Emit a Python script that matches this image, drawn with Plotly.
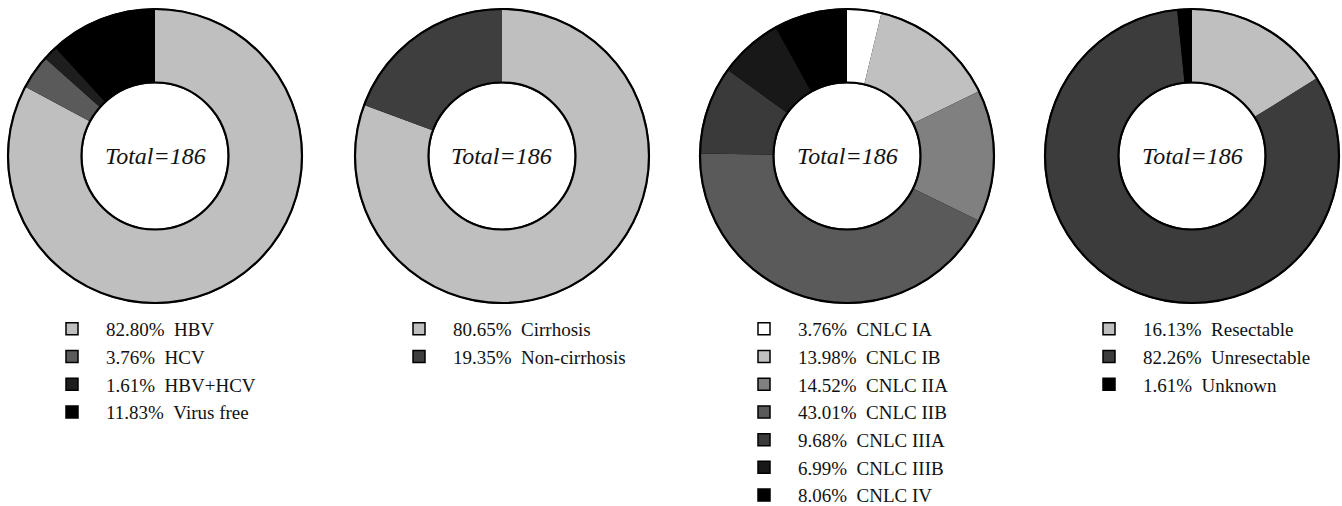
import plotly.graph_objects as go

W, H = 1342, 506

# ---- data ----
virus_labels = ["HBV", "HCV", "HBV+HCV", "Virus free"]
virus_values = [82.80, 3.76, 1.61, 11.83]
virus_colors = ["#bfbfbf", "#5a5a5a", "#1e1e1e", "#000000"]

cirr_labels = ["Cirrhosis", "Non-cirrhosis"]
cirr_values = [80.65, 19.35]
cirr_colors = ["#bfbfbf", "#3e3e3e"]

cnlc_labels = ["CNLC IA", "CNLC IB", "CNLC IIA", "CNLC IIB", "CNLC IIIA", "CNLC IIIB", "CNLC IV"]
cnlc_values = [3.76, 13.98, 14.52, 43.01, 9.68, 6.99, 8.06]
cnlc_colors = ["#ffffff", "#c0c0c0", "#808080", "#5a5a5a", "#3a3a3a", "#181818", "#000000"]

resect_labels = ["Resectable", "Unresectable", "Unknown"]
resect_values = [16.13, 82.26, 1.61]
resect_colors = ["#bfbfbf", "#3c3c3c", "#000000"]

total_n = 186

panels = [
    (virus_labels, virus_values, virus_colors),
    (cirr_labels, cirr_values, cirr_colors),
    (cnlc_labels, cnlc_values, cnlc_colors),
    (resect_labels, resect_values, resect_colors),
]

# layout (pixels)
centers_x = [155, 502, 847, 1192]
center_y = 156
radius = 147
HOLE = 0.5
FONT = "Liberation Serif, Times New Roman, serif"

fig = go.Figure()
annotations = []
legends = {}

for i, (labels, values, colors) in enumerate(panels):
    cx = centers_x[i]
    dom = dict(
        x=[(cx - radius) / W, (cx + radius) / W],
        y=[(H - (center_y + radius)) / H, (H - (center_y - radius)) / H],
    )
    lname = "legend" if i == 0 else f"legend{i + 1}"
    text_labels = [f"{v:.2f}%\u00a0\u00a0{l}" for l, v in zip(labels, values)]
    # legend-carrying trace (bordered symbols)
    fig.add_trace(go.Pie(
        labels=text_labels, values=values, hole=HOLE, sort=False,
        direction="clockwise", rotation=0, domain=dom,
        marker=dict(colors=colors, line=dict(color="black", width=1.5)),
        textinfo="none", hoverinfo="skip", legend=lname, showlegend=True,
    ))
    # clean fill on top (no separators)
    fig.add_trace(go.Pie(
        labels=text_labels, values=values, hole=HOLE, sort=False,
        direction="clockwise", rotation=0, domain=dom,
        marker=dict(colors=colors, line=dict(width=0)),
        textinfo="none", hoverinfo="skip", legend=lname, showlegend=False,
    ))
    # outline ring
    fig.add_trace(go.Pie(
        labels=[f"outline{i}"], values=[1], hole=HOLE, sort=False,
        domain=dom,
        marker=dict(colors=["rgba(0,0,0,0)"], line=dict(color="black", width=2.2)),
        textinfo="none", hoverinfo="skip", showlegend=False,
    ))
    annotations.append(dict(
        x=cx / W, y=(H - center_y) / H, xref="paper", yref="paper",
        xanchor="center", yanchor="middle",
        text=f"<i>Total={total_n}</i>", showarrow=False,
        font=dict(family=FONT, size=24, color="#111111"),
    ))
    legends[lname] = dict(
        x=(cx - 49 - 68) / W, y=(H - 310) / H, xanchor="left", yanchor="top",
        font=dict(family=FONT, size=19, color="#111111"),
        bgcolor="rgba(0,0,0,0)", itemwidth=58, orientation="v",
        traceorder="normal", itemclick=False, itemdoubleclick=False,
    )

fig.update_layout(
    width=W, height=H,
    margin=dict(l=0, r=0, t=0, b=0, autoexpand=False),
    paper_bgcolor="white", plot_bgcolor="white",
    annotations=annotations,
    **legends,
)

fig.write_html(
    "out.html",
    config={"displayModeBar": False},
    post_script="document.body.style.margin='0';",
)
